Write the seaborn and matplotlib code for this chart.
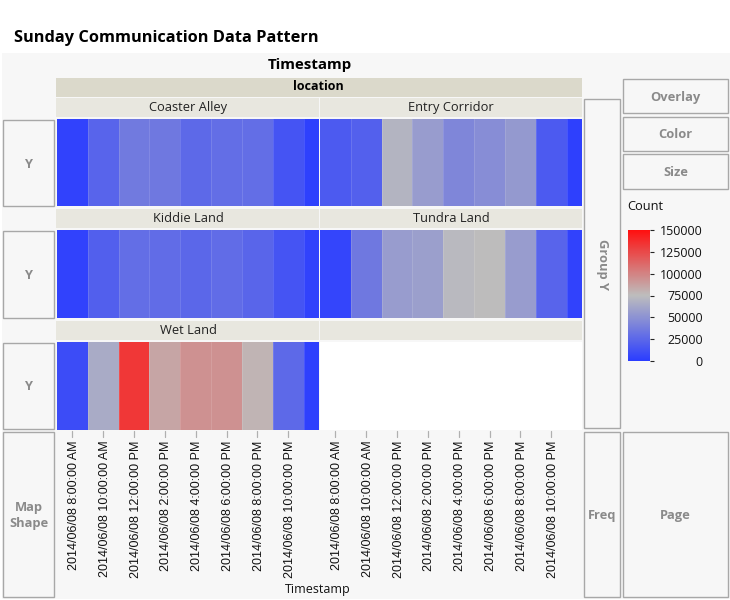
import numpy as np
import pandas as pd
import matplotlib
matplotlib.use("Agg")
import matplotlib.pyplot as plt
from matplotlib.colors import LinearSegmentedColormap
from matplotlib.patches import Rectangle
from matplotlib.transforms import ScaledTranslation
import seaborn as sns

sns.set_theme(style="white")
plt.rcParams['font.family'] = ['Open Sans', 'DejaVu Sans']

W, H = 730, 600
time_labels = ["2014/06/08 8:00:00 AM", "2014/06/08 10:00:00 AM", "2014/06/08 12:00:00 PM",
               "2014/06/08 2:00:00 PM", "2014/06/08 4:00:00 PM", "2014/06/08 6:00:00 PM",
               "2014/06/08 8:00:00 PM", "2014/06/08 10:00:00 PM"]
coaster = [3000, 23000, 36000, 35000, 26000, 29000, 29000, 14000, 2000]
entry = [17000, 21000, 70000, 56000, 43000, 47000, 54000, 17000, 2000]
kiddie = [3000, 20000, 29000, 28000, 25000, 28000, 24000, 14000, 3000]
tundra = [5000, 35000, 56000, 58000, 73000, 75000, 56000, 23000, 3000]
wet = [9000, 65000, 133000, 85000, 94000, 94000, 79000, 26000, 2000]
cbar_ticks = [0, 25000, 50000, 75000, 100000, 125000, 150000]

fig = plt.figure(figsize=(W / 100, H / 100), dpi=100, facecolor="white")

def axpx(x0, y0, x1, y1, **kw):
    return fig.add_axes([x0 / W, 1 - y1 / H, (x1 - x0) / W, (y1 - y0) / H], **kw)

def rect(x0, y0, x1, y1, fc, ec="none", lw=0, z=0):
    fig.add_artist(Rectangle((x0 / W, 1 - y1 / H), (x1 - x0) / W, (y1 - y0) / H,
                             transform=fig.transFigure, fc=fc, ec=ec, lw=lw, zorder=z))

def txt(x, y, s, **kw):
    fig.text(x / W, 1 - y / H, s, ha=kw.pop("ha", "center"), va=kw.pop("va", "center"), **kw)

cmap = LinearSegmentedColormap.from_list("jmp", ["#2b3dff", "#bdbdbd", "#ff1010"])

rect(2, 53, 730, 599, "#f7f7f7")
txt(14, 38, "Sunday Communication Data Pattern", ha="left", fontsize=11.8, fontweight="bold", color="black")
txt(310, 65, "Timestamp", fontsize=10.8, fontweight="bold", color="black")
rect(56, 78, 582, 97, "#dbd9cb")
txt(318, 87, "location", fontsize=9, fontweight="bold", color="black")

rows = [(119, 206), (230, 318), (342, 430)]
cols = [(57, 319), (320, 582)]
panels = [("Coaster Alley", coaster, 0, 0), ("Entry Corridor", entry, 0, 1),
          ("Kiddie Land", kiddie, 1, 0), ("Tundra Land", tundra, 1, 1),
          ("Wet Land", wet, 2, 0)]

for r, (y0, y1) in enumerate(rows):
    rect(56, y0 - 21, 319, y0 - 2, "#e8e7df")
    rect(320, y0 - 21, 582, y0 - 2, "#e8e7df")

# half-width cells so that the last (partial) time bin is half as wide
repeats = [2] * 8 + [1]
for name, vals, r, c in panels:
    y0, y1 = rows[r]
    x0, x1 = cols[c]
    ax = axpx(x0, y0, x1, y1)
    data = pd.DataFrame([np.repeat(vals, repeats)])
    sns.heatmap(data, ax=ax, cmap=cmap, vmin=0, vmax=150000, cbar=False,
                xticklabels=False, yticklabels=False)
    for k in range(2, 17, 2):
        ax.axvline(k, color="white", lw=0.6, alpha=0.15)
    txt((x0 + x1) / 2, y0 - 11, name, fontsize=9.3, color="#222222")

empty = axpx(320, 342, 582, 430, facecolor="white")
empty.set_xticks([]); empty.set_yticks([])
for s in empty.spines.values():
    s.set_visible(False)

# Tick axes
for x0, x1 in cols:
    tax = axpx(x0, 431, x1, 438, facecolor="none")
    tax.set_xlim(0, 17); tax.set_ylim(0, 1)
    tax.set_yticks([])
    tax.set_xticks(np.arange(1, 16, 2))
    tax.set_xticklabels(time_labels, rotation=90, fontsize=9, color="#111111",
                        fontfamily=['Liberation Sans', 'DejaVu Sans'])
    tax.tick_params(axis="x", length=0, pad=2, top=False, bottom=False, labelbottom=True)
    for lab in tax.get_xticklabels():
        lab.set_transform(lab.get_transform() + ScaledTranslation(1.5 / 100, 0, fig.dpi_scale_trans))
    for t in tax.get_xticks():
        tax.plot([t, t], [0.1, 1], color="#b0b0b0", lw=0.9, clip_on=False)
    for s in tax.spines.values():
        s.set_visible(False)
    tax.patch.set_alpha(0)
txt(318, 589, "Timestamp", fontsize=9, color="#111111")

# Drop-zone boxes
def box(x0, y0, x1, y1, label, rot=0, fs=9.3):
    rect(x0, y0, x1, y1, "#f7f7f7", ec="#a8a8a8", lw=1.0, z=1)
    if label:
        txt((x0 + x1) / 2, (y0 + y1) / 2 + 1, label, fontsize=fs, fontweight="bold",
            color="#8a8a8a", rotation=rot, zorder=2, linespacing=1.3)

box(3, 120, 54, 206, "Y")
box(3, 231, 54, 318, "Y")
box(3, 343, 54, 429, "Y")
box(3, 432, 54, 597, "Map\nShape")
box(584, 99, 620, 428, "Group Y", rot=270)
box(584, 432, 620, 597, "Freq")
box(623, 79, 728, 113, "Overlay")
box(623, 117, 728, 151, "Color")
box(623, 154, 728, 189, "Size")
box(623, 432, 728, 597, "Page")

# Colour legend
txt(627, 207, "Count", ha="left", fontsize=9.3, color="#111111")
cax = axpx(628, 230, 650, 361)
probe = axpx(0, 0, 1, 1)
sns.heatmap(pd.DataFrame([[0.0]]), ax=probe, cmap=cmap, vmin=0, vmax=150000, cbar=True, cbar_ax=cax)
probe.remove()
cax.set_yticks(cbar_ticks)
cax.set_yticklabels([str(v) for v in cbar_ticks], fontsize=9, color="#111111", ha="right")
cax.tick_params(axis="y", length=3, width=0.8, pad=35, right=True, left=False, labelright=True)
for t, v in zip(cax.yaxis.get_major_ticks(), cbar_ticks):
    t.tick2line.set_color(cmap(v / 150000))
    t.label2.set_color("#111111")
for s in cax.spines.values():
    s.set_visible(False)

fig.savefig("out.png", dpi=100, facecolor="white")
